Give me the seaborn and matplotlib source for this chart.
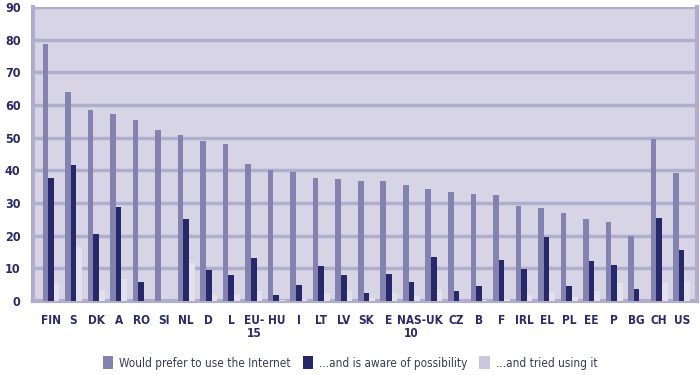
import seaborn as sns
import matplotlib.pyplot as plt
import pandas as pd

countries = ['FIN', 'S', 'DK', 'A', 'RO', 'SI', 'NL', 'D', 'L', 'EU-\n15', 'HU', 'I', 'LT', 'LV',
             'SK', 'E', 'NAS-\n10', 'UK', 'CZ', 'B', 'F', 'IRL', 'EL', 'PL', 'EE', 'P', 'BG', 'CH', 'US']
series_names = ['Would prefer to use the Internet', '...and is aware of possibility', '...and tried using it']

prefer = [78.6, 63.9, 58.5, 57.1, 55.4, 52.5, 50.8, 49.0, 48.0, 42.0, 40.1, 39.6, 37.6, 37.3,
          36.7, 36.6, 35.6, 34.2, 33.5, 32.7, 32.4, 29.0, 28.4, 27.0, 25.1, 24.2, 19.9, 49.5, 39.2]
aware = [37.7, 41.5, 20.5, 28.9, 5.8, 0.0, 25.0, 9.4, 8.0, 13.1, 1.8, 4.9, 10.8, 8.0,
         2.4, 8.4, 5.7, 13.5, 3.1, 4.6, 12.5, 9.8, 19.7, 4.6, 12.2, 11.0, 3.7, 25.4, 15.7]
tried = [5.6, 16.5, 3.4, 6.7, 0.0, 0.0, 11.6, 1.9, 2.2, 3.0, 0.4, 0.7, 2.5, 3.0,
         0.8, 2.3, 1.4, 3.6, 0.0, 0.4, 0.5, 1.9, 2.7, 1.1, 3.2, 5.5, 0.0, 5.5, 6.0]

colors = ['#8482ae', '#27286a', '#e3e1ee']
grid_color = '#b1adcd'
text_color = '#2b2b6b'

df = pd.concat([
    pd.DataFrame({'country': countries, 'value': vals, 'series': name})
    for name, vals in zip(series_names, [prefer, aware, tried])
])

sns.set_style('white')
plt.rcParams['font.family'] = ['DejaVu Sans']
plt.rcParams['font.stretch'] = 'condensed'

fig = plt.figure(figsize=(7, 3.75), dpi=100)
ax = fig.add_axes([33 / 700, 1 - 301 / 375, 664 / 700, 294 / 375])
ax.set_facecolor('#d7d5e5')

sns.barplot(data=df, x='country', y='value', hue='series', palette=colors,
            width=0.75, saturation=1, linewidth=0, ax=ax, zorder=3)

ax.set_ylim(0, 90)
ax.set_xlim(-0.8, 28.68)
ax.set_yticks(range(0, 91, 10))
ax.yaxis.grid(True, color=grid_color, linewidth=2.5, zorder=0)
ax.set_axisbelow(True)
ax.set_xlabel('')
ax.set_ylabel('')

for side in ['left', 'bottom', 'right']:
    ax.spines[side].set_color(grid_color)
    ax.spines[side].set_linewidth(3)
ax.spines['top'].set_visible(False)

ax.tick_params(axis='y', length=6, width=2.5, color=grid_color, labelsize=9,
               labelcolor=text_color, pad=3)
ax.tick_params(axis='x', length=0, labelsize=8.5, labelcolor=text_color, pad=9)
for lbl in ax.get_xticklabels() + ax.get_yticklabels():
    lbl.set_fontweight('bold')
for lbl in ax.get_xticklabels():
    lbl.set_linespacing(1.05)

handles, labels = ax.get_legend_handles_labels()
ax.legend_.remove()
handles[2].set_facecolor('#cac8de')
leg = fig.legend(handles, labels, loc='center left', bbox_to_anchor=(92 / 700, 1 - 363 / 375),
                 ncol=3, frameon=False, fontsize=8.5, handlelength=0.9, handleheight=1.3,
                 handletextpad=0.5, columnspacing=1.0)
for t in leg.get_texts():
    t.set_color('#3a3a5a')

fig.savefig('out.png', dpi=100)
